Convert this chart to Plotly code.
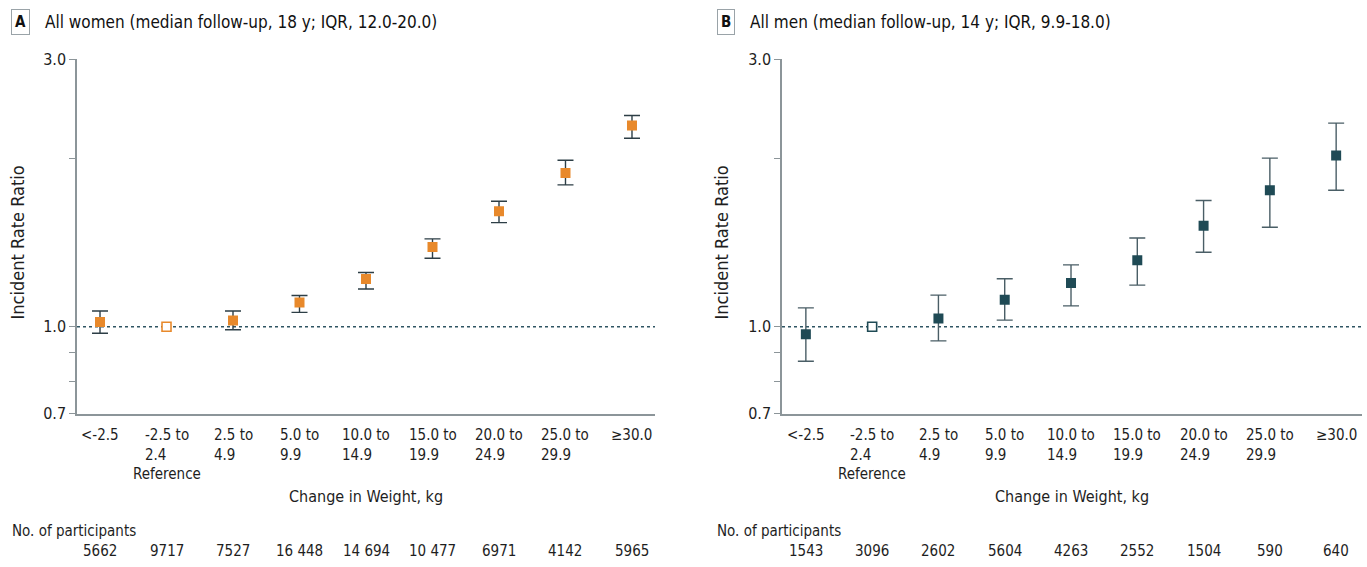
import plotly.graph_objects as go

# ---- data ----
categories = ["<-2.5", "-2.5 to<br>2.4", "2.5 to<br>4.9", "5.0 to<br>9.9", "10.0 to<br>14.9",
              "15.0 to<br>19.9", "20.0 to<br>24.9", "25.0 to<br>29.9", "≥30.0"]
reference_index = 1
reference_note = "Reference"

women_irr = [1.02, 1.00, 1.026, 1.105, 1.217, 1.388, 1.607, 1.882, 2.287]
women_lo = [0.974, 1.00, 0.988, 1.061, 1.168, 1.325, 1.534, 1.792, 2.170]
women_hi = [1.067, 1.00, 1.067, 1.137, 1.250, 1.435, 1.675, 1.982, 2.383]

men_irr = [0.970, 1.00, 1.035, 1.117, 1.197, 1.314, 1.515, 1.752, 2.021]
men_lo = [0.868, 1.00, 0.944, 1.028, 1.090, 1.187, 1.358, 1.505, 1.752]
men_hi = [1.081, 1.00, 1.139, 1.218, 1.290, 1.440, 1.680, 2.000, 2.309]

women_n = ["5662", "9717", "7527", "16 448", "14 694", "10 477", "6971", "4142", "5965"]
men_n = ["1543", "3096", "2602", "5604", "4263", "2552", "1504", "590", "640"]

y_tickvals = [0.7, 0.8, 0.9, 1.0, 2.0, 3.0]
y_ticktext = ["0.7", "", "", "1.0", "", "3.0"]

title_a = "All women (median follow-up, 18 y; IQR, 12.0-20.0)"
title_b = "All men (median follow-up, 14 y; IQR, 9.9-18.0)"

# ---- style ----
W, H = 1367, 567
FONT = "Liberation Sans Narrow, DejaVu Sans Condensed, Arial Narrow, sans-serif"
TXT = "#1e1e1e"
AXIS = "#8c9599"
ORANGE = "#E8892B"
TEAL = "#1F4A55"
BAR_A = "#2D3E46"
BAR_B = "#4A5E66"


def px(xp):
    return xp / W


def py(yp):
    # vertical layout position (pixels from top) -> paper fraction
    yd = (yp - 9.6) / 0.966
    return 1 - yd / H


fig = go.Figure()

xs = list(range(len(categories)))


def add_panel(irr, lo, hi, color, barcolor, xaxis, yaxis):
    idx = [i for i in xs if i != reference_index]
    fig.add_trace(go.Scatter(
        x=[xs[i] for i in idx], y=[irr[i] for i in idx], mode="markers",
        marker=dict(symbol="square", size=10, color=color, line=dict(width=0)),
        error_y=dict(type="data", symmetric=False,
                     array=[hi[i] - irr[i] for i in idx],
                     arrayminus=[irr[i] - lo[i] for i in idx],
                     color=barcolor, thickness=1.4, width=8),
        xaxis=xaxis, yaxis=yaxis, showlegend=False, hoverinfo="x+y"))
    fig.add_trace(go.Scatter(
        x=[xs[reference_index]], y=[irr[reference_index]], mode="markers",
        marker=dict(symbol="square", size=9, color="white", line=dict(width=1.6, color=color)),
        xaxis=xaxis, yaxis=yaxis, showlegend=False, hoverinfo="x+y"))


add_panel(women_irr, women_lo, women_hi, ORANGE, BAR_A, "x", "y")
add_panel(men_irr, men_lo, men_hi, TEAL, BAR_B, "x2", "y2")

yaxis_common = dict(type="log", range=[-0.1549, 0.4771], tickvals=y_tickvals, ticktext=y_ticktext,
                    ticks="outside", ticklen=6, tickcolor=AXIS, tickwidth=1.2,
                    showline=True, linecolor=AXIS, linewidth=1.5, showgrid=False, zeroline=False,
                    tickfont=dict(family=FONT, size=16, color=TXT))
xaxis_common = dict(showticklabels=False, ticks="", showline=True, linecolor=AXIS, linewidth=1.5,
                    showgrid=False, zeroline=False)

yd = [py(414), py(60)]
fig.update_layout(
    width=W, height=H, margin=dict(l=0, r=0, t=0, b=0),
    paper_bgcolor="white", plot_bgcolor="white",
    font=dict(family=FONT, size=15, color=TXT),
    xaxis=dict(domain=[px(77), px(655)], range=[-0.346, 8.346], anchor="y", **xaxis_common),
    yaxis=dict(domain=yd, anchor="x", **yaxis_common),
    xaxis2=dict(domain=[px(782), px(1362)], range=[-0.36, 8.39], anchor="y2", **xaxis_common),
    yaxis2=dict(domain=yd, anchor="x2", **yaxis_common),
)

# dotted reference line at 1.0
for xa, ya in [("x", "y"), ("x2", "y2")]:
    fig.add_shape(type="line", xref=f"{xa} domain", yref=ya, x0=0, x1=1, y0=1.0, y1=1.0,
                  line=dict(color="#2F5563", width=1.5, dash="dot"), layer="below")

ann = []
for xa, title, letter, box_x, title_x, n_list, ylab_x, np_x in [
        ("x", title_a, "A", 20, 43, women_n, 18, 10),
        ("x2", title_b, "B", 726, 748, men_n, 722, 715)]:
    # panel letter box
    ann.append(dict(text=f"<b>{letter}</b>", x=px(box_x), y=py(23), xref="paper", yref="paper",
                    xanchor="center", yanchor="middle", showarrow=False,
                    font=dict(family=FONT, size=15, color="#111"),
                    bordercolor="#9aa3a8", borderwidth=1, borderpad=3, bgcolor="white"))
    ann.append(dict(text=title, x=px(title_x), y=py(23), xref="paper", yref="paper",
                    xanchor="left", yanchor="middle", showarrow=False,
                    font=dict(family=FONT, size=17, color="#111")))
    # y-axis title
    ann.append(dict(text="Incident Rate Ratio", x=px(ylab_x), y=py(243), xref="paper", yref="paper",
                    xanchor="center", yanchor="middle", textangle=-90, showarrow=False,
                    font=dict(family=FONT, size=18, color=TXT)))
    # category labels
    for i, c in enumerate(categories):
        ann.append(dict(text=c, x=i, y=py(424), xref=xa, yref="paper", xanchor="center",
                        yanchor="top", align="left", showarrow=False,
                        font=dict(family=FONT, size=15, color=TXT)))
        ann.append(dict(text=n_list[i], x=i, y=py(551), xref=xa, yref="paper", xanchor="center",
                        yanchor="middle", showarrow=False,
                        font=dict(family=FONT, size=15, color=TXT)))
    ann.append(dict(text=reference_note, x=reference_index, y=py(474), xref=xa, yref="paper",
                    xanchor="center", yanchor="middle", showarrow=False,
                    font=dict(family=FONT, size=15, color=TXT)))
    ann.append(dict(text="Change in Weight, kg", x=0.5, y=py(497), xref=f"{xa} domain", yref="paper",
                    xanchor="center", yanchor="middle", showarrow=False,
                    font=dict(family=FONT, size=16, color=TXT)))
    ann.append(dict(text="No. of participants", x=px(np_x), y=py(531), xref="paper", yref="paper",
                    xanchor="left", yanchor="middle", showarrow=False,
                    font=dict(family=FONT, size=15, color=TXT)))

fig.update_layout(annotations=ann)
post = ("document.documentElement.style.margin='0';document.body.style.margin='0';"
        "document.documentElement.style.overflow='hidden';document.body.style.overflow='hidden';"
        "var d=document.getElementById('{plot_id}');d.style.position='fixed';"
        "d.style.top='0px';d.style.left='0px';")
fig.write_html("out.html", config={"displayModeBar": False}, post_script=post)
